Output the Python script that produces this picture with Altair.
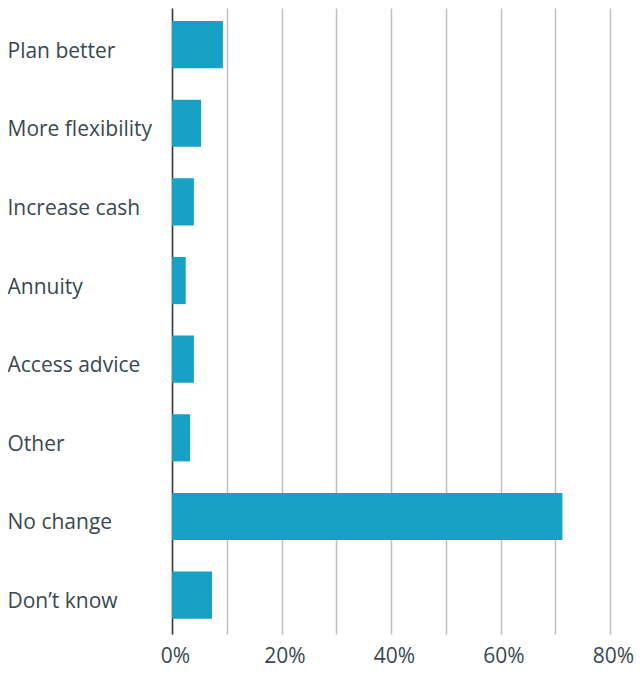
import altair as alt
import pandas as pd

categories = ["Plan better", "More flexibility", "Increase cash", "Annuity",
              "Access advice", "Other", "No change", "Don\u2019t know"]
values = [9.3, 5.3, 4.0, 2.5, 4.0, 3.3, 71.3, 7.3]
x_ticks = [0, 10, 20, 30, 40, 50, 60, 70, 80]

df = pd.DataFrame({"category": categories, "value": values})

FONT = "Open Sans"
TEXT = "#3b4850"

chart = alt.Chart(df).mark_bar(color="#16a1c5").encode(
    x=alt.X("value:Q",
            scale=alt.Scale(domain=[0, 80], nice=False),
            axis=alt.Axis(values=x_ticks, title=None, domain=False, ticks=False,
                          tickSize=0,
                          labelExpr="datum.value % 20 == 0 ? datum.value + '%' : ''",
                          grid=True, gridColor="#b8c1c8", gridWidth=1.5,
                          labelFont=FONT, labelFontSize=21, labelColor=TEXT,
                          labelPadding=11, labelOffset=3, labelFlush=False)),
    y=alt.Y("category:N", sort=categories,
            scale=alt.Scale(paddingInner=0.4, paddingOuter=0.18, align=0.46),
            axis=alt.Axis(title=None, ticks=False, tickSize=0, domain=True,
                          domainColor="#2f3b42", domainWidth=1.5,
                          labelAlign="left", labelPadding=165, labelOffset=7,
                          labelFont=FONT, labelFontSize=21, labelColor=TEXT,
                          labelLimit=200)),
).properties(
    width=438, height=626,
    autosize=alt.AutoSizeParams(type="none"),
    padding={"left": 164, "top": 0, "right": 26, "bottom": 35},
).configure_view(stroke=None)

chart.save("out.html", embed_options={"renderer": "svg", "actions": False})
